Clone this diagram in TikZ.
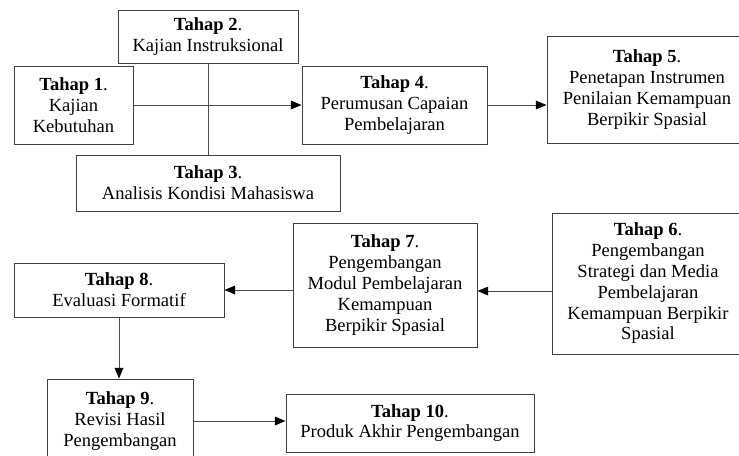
\documentclass[tikz,border=0pt]{standalone}
\usepackage{fontspec}
\setmainfont{Liberation Serif}
\usetikzlibrary{arrows.meta, calc}

\begin{document}
\begin{tikzpicture}[x=0.75pt, y=-0.75pt, >={Triangle[length=8pt, width=6.5pt, color=black]},
    tahap/.style={draw=black!75, line width=0.75pt, align=center, inner sep=0pt,
      font=\fontsize{13.9}{15.6}\selectfont},
    ukuran/.style 2 args={minimum width=#1*0.75pt, minimum height=#2*0.75pt},
    garis/.style={draw=black!70, line width=0.75pt},
    panah/.style={garis, ->}]
    \useasboundingbox (0,0) rectangle (739,455);

    % baris atas
    \node[tahap, ukuran={119}{78}] (t1) at (73.5,105) {\textbf{Tahap 1}.\\Kajian\\Kebutuhan};
    \node[tahap, ukuran={180}{53}] (t2) at (208,36.5) {\textbf{Tahap 2}.\\Kajian Instruksional};
    \node[tahap, ukuran={264}{56}] (t3) at (208,183) {\textbf{Tahap 3}.\\Analisis Kondisi Mahasiswa};
    \node[tahap, ukuran={185}{78}] (t4) at (394.5,105) {\textbf{Tahap 4}.\\Perumusan Capaian\\Pembelajaran};
    \node[tahap, ukuran={200}{107}] (t5) at (647,89.5) {\textbf{Tahap 5}.\\Penetapan Instrumen\\Penilaian Kemampuan\\Berpikir Spasial};

    % baris tengah
    \node[tahap, ukuran={192}{141}] (t6) at (648,283.5) {\textbf{Tahap 6}.\\Pengembangan\\Strategi dan Media\\Pembelajaran\\Kemampuan Berpikir\\Spasial};
    \node[tahap, ukuran={184}{124}] (t7) at (385,285) {\textbf{Tahap 7}.\\Pengembangan\\Modul Pembelajaran\\Kemampuan\\Berpikir Spasial};
    \node[tahap, ukuran={210}{54}] (t8) at (119,290) {\textbf{Tahap 8}.\\Evaluasi Formatif};

    % baris bawah
    \node[tahap, ukuran={146}{84}] (t9) at (120,421) {\textbf{Tahap 9}.\\Revisi Hasil\\Pengembangan};
    \node[tahap, ukuran={248}{58}] (t10) at (410,423) {\textbf{Tahap 10}.\\Produk Akhir Pengembangan};

    \draw[panah] (t1.east) -- (t4.west);
    \draw[garis] (t2.south) -- (t3.north);
    \draw[panah] (t4.east) -- (t4.east -| t5.west);
    \draw[panah] ([yshift=-4.5pt]t7.east -| t6.west) -- ([yshift=-4.5pt]t7.east);
    \draw[panah] (t8.east -| t7.west) -- (t8.east);
    \draw[panah] (t8.south) -- (t8.south |- t9.north);
    \draw[panah] (t9.east) -- (t9.east -| t10.west);
\end{tikzpicture}
\end{document}
